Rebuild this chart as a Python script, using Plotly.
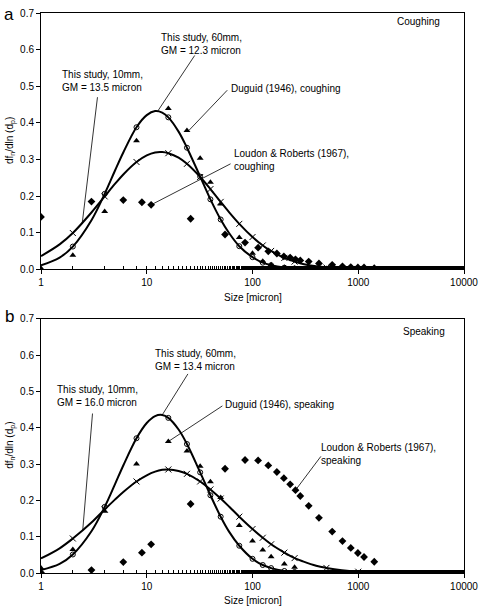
import plotly.graph_objects as go

# ---------------- data ----------------
CURVE_X = [1, 1.5, 2, 3, 4, 5, 6, 8, 10, 12, 14, 16, 20, 24, 32, 40, 50, 60, 75,
           100, 125, 150, 200, 250, 300, 400, 500, 700, 1000, 1500, 2000]

cough_60mm = [0.011, 0.032, 0.062, 0.134, 0.206, 0.269, 0.319, 0.388, 0.421, 0.432, 0.428,
              0.415, 0.376, 0.332, 0.253, 0.191, 0.136, 0.099, 0.063, 0.033, 0.018, 0.011,
              0.0045, 0.0021, 0.0011, 0.0004, 0.0001, 0.0, 0.0, 0.0, 0.0]
cough_10mm = [0.036, 0.068, 0.099, 0.155, 0.199, 0.233, 0.259, 0.293, 0.311, 0.319, 0.320,
              0.317, 0.305, 0.288, 0.252, 0.219, 0.184, 0.156, 0.124, 0.088, 0.065, 0.050,
              0.031, 0.021, 0.0145, 0.008, 0.0048, 0.0021, 0.0008, 0.0003, 0.0001]
speak_60mm = [0.008, 0.025, 0.051, 0.115, 0.182, 0.244, 0.296, 0.371, 0.413, 0.432, 0.435,
              0.427, 0.395, 0.355, 0.277, 0.214, 0.155, 0.114, 0.075, 0.039, 0.022, 0.0135,
              0.0056, 0.0027, 0.0014, 0.0005, 0.0002, 0.0, 0.0, 0.0, 0.0]
speak_10mm = [0.040, 0.068, 0.095, 0.139, 0.175, 0.202, 0.223, 0.252, 0.269, 0.279, 0.284,
              0.285, 0.281, 0.273, 0.252, 0.230, 0.205, 0.183, 0.155, 0.121, 0.097, 0.079,
              0.056, 0.041, 0.032, 0.020, 0.014, 0.0075, 0.0036, 0.0015, 0.0007]

STUDY_MARKER_X = [2, 4, 8, 16, 24, 32, 40, 50, 75, 100, 125, 150, 200, 250, 500, 1000]

DUGUID_X = [1, 2, 4, 8, 16, 24, 32, 40, 50, 75, 100, 125, 150, 200, 250, 500, 1000]
duguid_cough = [0.003, 0.038, 0.158, 0.351, 0.439, 0.379, 0.303, 0.238, 0.178, 0.087,
                0.044, 0.022, 0.012, 0.005, 0.003, 0.002, 0.001]
duguid_speak = [0.014, 0.065, 0.170, 0.300, 0.362, 0.336, 0.294, 0.251, 0.208, 0.131,
                0.088, 0.063, 0.045, 0.025, 0.016, 0.001, 0.0]

LOUDON_X = [1, 3, 6, 9, 11, 26, 55, 85, 113, 141, 170, 198, 227, 255, 283, 340, 425,
            567, 709, 850, 992, 1134, 1417]
loudon_cough = [0.143, 0.185, 0.189, 0.183, 0.176, 0.138, 0.095, 0.073, 0.059, 0.049,
                0.043, 0.035, 0.032, 0.027, 0.024, 0.021, 0.016, 0.012, 0.008, 0.006,
                0.005, 0.005, 0.003]
loudon_speak = [0.001, 0.008, 0.030, 0.056, 0.079, 0.190, 0.287, 0.311, 0.310, 0.296,
                0.278, 0.261, 0.244, 0.228, 0.212, 0.185, 0.152, 0.114, 0.088, 0.069,
                0.055, 0.044, 0.031]

X_TICKS = [1, 10, 100, 1000, 10000]
X_TICK_TEXT = ["1", "10", "100", "1000", "10000"]
Y_TICKS = [0.0, 0.1, 0.2, 0.3, 0.4, 0.5, 0.6, 0.7]

# ---------------- layout helpers ----------------
W, H = 485, 608
ML, MR, MT, MB = 41, 15, 7, 35
PW, PH = W - ML - MR, H - MT - MB


def px(x):
    return (x - ML) / PW


def py(y):
    return (H - MB - y) / PH


FONT = "Liberation Sans, Arial, sans-serif"
BLACK = "#000000"

fig = go.Figure()


def pick(vals):
    return [vals[CURVE_X.index(x)] for x in STUDY_MARKER_X]


def add_panel(xa, ya, c60, c10, dug, lou):
    # fitted curves
    for c in (c60, c10):
        fig.add_trace(go.Scatter(x=CURVE_X, y=c, mode="lines", line=dict(color=BLACK, width=2, shape="spline"),
                                 xaxis=xa, yaxis=ya, hoverinfo="skip", showlegend=False))
    fig.add_trace(go.Scatter(x=STUDY_MARKER_X, y=pick(c60), mode="markers",
                             marker=dict(symbol="circle-open", size=5, color=BLACK, line=dict(width=1)),
                             xaxis=xa, yaxis=ya, showlegend=False))
    fig.add_trace(go.Scatter(x=STUDY_MARKER_X, y=pick(c10), mode="markers",
                             marker=dict(symbol="x-thin", size=6, color=BLACK, line=dict(width=1, color=BLACK)),
                             xaxis=xa, yaxis=ya, showlegend=False))
    fig.add_trace(go.Scatter(x=DUGUID_X, y=dug, mode="markers",
                             marker=dict(symbol="triangle-up", size=6, color=BLACK),
                             xaxis=xa, yaxis=ya, showlegend=False))
    fig.add_trace(go.Scatter(x=LOUDON_X, y=lou, mode="markers",
                             marker=dict(symbol="diamond", size=6, color=BLACK),
                             xaxis=xa, yaxis=ya, showlegend=False))


def leader(xa, ya, xs, ys):
    fig.add_trace(go.Scatter(x=xs, y=ys, mode="lines", line=dict(color=BLACK, width=0.8),
                             xaxis=xa, yaxis=ya, hoverinfo="skip", showlegend=False))


add_panel("x", "y", cough_60mm, cough_10mm, duguid_cough, loudon_cough)
add_panel("x2", "y2", speak_60mm, speak_10mm, duguid_speak, loudon_speak)

# leader lines (panel a)
leader("x", "y", [28.4, 12.7], [0.584, 0.432])
leader("x", "y", [3.42, 2.45], [0.470, 0.124])
leader("x", "y", [57.7, 25.0], [0.489, 0.379])
leader("x", "y", [62.0, 11.0], [0.288, 0.176])
# leader lines (panel b)
leader("x2", "y2", [24.5, 14.0], [0.548, 0.435])
leader("x2", "y2", [3.07, 2.48], [0.439, 0.117])
leader("x2", "y2", [51.9, 16.0], [0.460, 0.362])
leader("x2", "y2", [443, 255], [0.321, 0.228])

axis_common = dict(showline=True, linecolor=BLACK, linewidth=1, mirror=True, showgrid=False,
                   zeroline=False, tickfont=dict(family=FONT, size=10, color=BLACK),
                   ticks="outside", ticklen=4, tickcolor=BLACK)

xaxis_common = dict(axis_common, type="log", range=[0, 4], tickvals=X_TICKS, ticktext=X_TICK_TEXT,
                    minor=dict(ticks="inside", ticklen=3, tickcolor=BLACK, showgrid=False))
yaxis_common = dict(axis_common, range=[0, 0.7], tickvals=Y_TICKS, tickformat=".1f")

top_dom = [py(266), 1.0]
bot_dom = [0.0, py(316)]

fig.update_layout(
    width=W, height=H,
    margin=dict(l=ML, r=MR, t=MT, b=MB),
    paper_bgcolor="white", plot_bgcolor="white",
    font=dict(family=FONT, size=10, color=BLACK),
    xaxis=dict(xaxis_common, domain=[0, 1], anchor="y"),
    yaxis=dict(yaxis_common, domain=top_dom, anchor="x"),
    xaxis2=dict(xaxis_common, domain=[0, 1], anchor="y2"),
    yaxis2=dict(yaxis_common, domain=bot_dom, anchor="x2"),
)

anns = []


def txt(x, y, s, size=10, xanchor="left", angle=0):
    anns.append(dict(x=px(x), y=py(y), xref="paper", yref="paper", text=s, showarrow=False,
                     xanchor=xanchor, yanchor="middle", align="left", textangle=angle,
                     font=dict(family=FONT, size=size, color=BLACK)))


# panel a
txt(1, 9, "a", size=17)
txt(400, 16, "Coughing")
txt(161, 38, "This study, 60mm,<br>GM = 12.3 micron")
txt(60, 76, "This study, 10mm,<br>GM = 13.5 micron")
txt(232, 83, "Duguid (1946), coughing")
txt(235, 156, "Loudon &amp; Roberts (1967),<br>coughing")
txt(256, 295, "Size [micron]", xanchor="center")
txt(10, 136, "df<sub>n</sub>/dln (d<sub>p</sub>)", xanchor="center", angle=-90)
# panel b
txt(2, 314, "b", size=17)
txt(406, 329, "Speaking")
txt(155, 358, "This study, 60mm,<br>GM = 13.4 micron")
txt(55, 394, "This study, 10mm,<br>GM = 16.0 micron")
txt(226, 403, "Duguid (1946), speaking")
txt(323, 453, "Loudon &amp; Roberts (1967),<br>speaking")
txt(256, 601, "Size [micron]", xanchor="center")
txt(10, 444, "df<sub>n</sub>/dln (d<sub>p</sub>)", xanchor="center", angle=-90)

fig.update_layout(annotations=anns)

fig.write_html("out.html", config={"displayModeBar": False},
               post_script="document.body.style.margin='0';document.body.style.overflow='hidden';")
